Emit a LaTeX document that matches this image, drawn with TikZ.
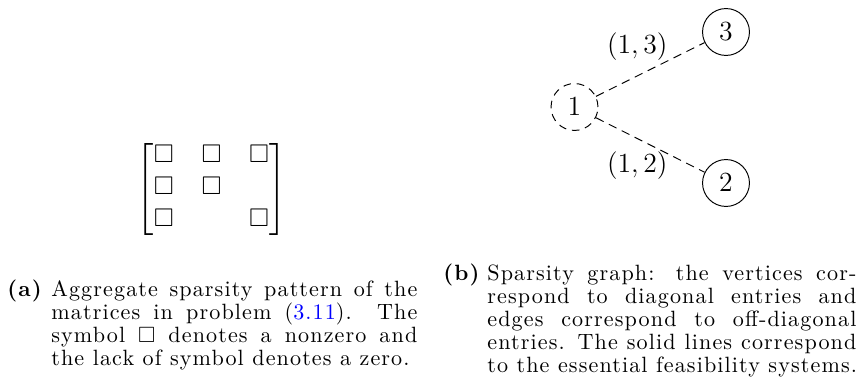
\documentclass[tikz,border=0pt]{standalone}
\usepackage{amsmath}
\usepackage{amssymb}
\usepackage[no-math]{fontspec}
% caption face: Latin Modern with a little tracking
\newfontfamily\capfont{lmroman10}[Extension=.otf, UprightFont=*-regular, BoldFont=*-bold, LetterSpace=5]

\newcommand{\fullA}[1]{\makebox[190.3pt][s]{#1}}
\newcommand{\fullB}[1]{\makebox[191.9pt][s]{#1}}

\tikzset{
  caplabel/.style={anchor=base west, inner sep=0pt, font=\fontsize{11.5}{12}\capfont\bfseries},
  capline/.style={anchor=base west, inner sep=0pt, font=\fontsize{11.5}{12}\capfont},
  bigmath/.style={font=\fontsize{13.5}{16}\selectfont},
  vertex/.style={circle, draw, line width=0.5pt, minimum size=24.4pt, inner sep=0pt, bigmath},
  dashvertex/.style={vertex, dash pattern=on 4pt off 3pt},
  sparseedge/.style={line width=0.5pt, dash pattern=on 4.5pt off 3pt},
  edgelabel/.style={inner sep=0pt, bigmath}
}

\begin{document}
\begin{tikzpicture}[x=0.52pt, y=-0.52pt]
  \useasboundingbox (0,0) rectangle (857,391);

  % aggregate sparsity pattern
  \node[inner sep=0pt, font=\fontsize{13.3}{16.64}\selectfont] (pattern) at (211.5,189.5)
    {$\setlength{\arraycolsep}{7.2pt}\begin{bmatrix}
      \Box & \Box & \Box\\
      \Box & \Box & \\
      \Box &      & \Box\rule[-6pt]{0pt}{6pt}
    \end{bmatrix}$};

  % sparsity graph
  \node[dashvertex] (v1) at (574.5,107) {$1$};
  \node[vertex]     (v3) at (726,32)    {$3$};
  \node[vertex]     (v2) at (726,183)   {$2$};
  \draw[sparseedge] (v1) -- node[edgelabel, shift={(-13,-23)}] (e13) {$(1,3)$} (v3);
  \draw[sparseedge] (v1) -- node[edgelabel, shift={(-13,21)}]  (e12) {$(1,2)$} (v2);

  % caption of the pattern, one justified line per node
  \node[caplabel] (labA) at (7,297) {(a)};
  \node[capline] (a1) at (51,297) {\fullA{Aggregate sparsity pattern of the}};
  \node[capline] (a2) at (51,320) {\fullA{matrices in problem (\textcolor{blue}{3.11}). The}};
  \node[capline] (a3) at (51,343) {\fullA{symbol $\Box$ denotes a nonzero and}};
  \node[capline] (a4) at (51,366) {the lack of symbol denotes a zero.};

  % caption of the graph
  \node[caplabel] (labB) at (443,281) {(b)};
  \node[capline] (b1) at (487,281) {\fullB{Sparsity graph: the vertices cor-}};
  \node[capline] (b2) at (487,304) {\fullB{respond to diagonal entries and}};
  \node[capline] (b3) at (487,327) {\fullB{edges correspond to off-diagonal}};
  \node[capline] (b4) at (487,350) {\fullB{entries. The solid lines correspond}};
  \node[capline] (b5) at (487,373) {to the essential feasibility systems.};
\end{tikzpicture}
\end{document}
